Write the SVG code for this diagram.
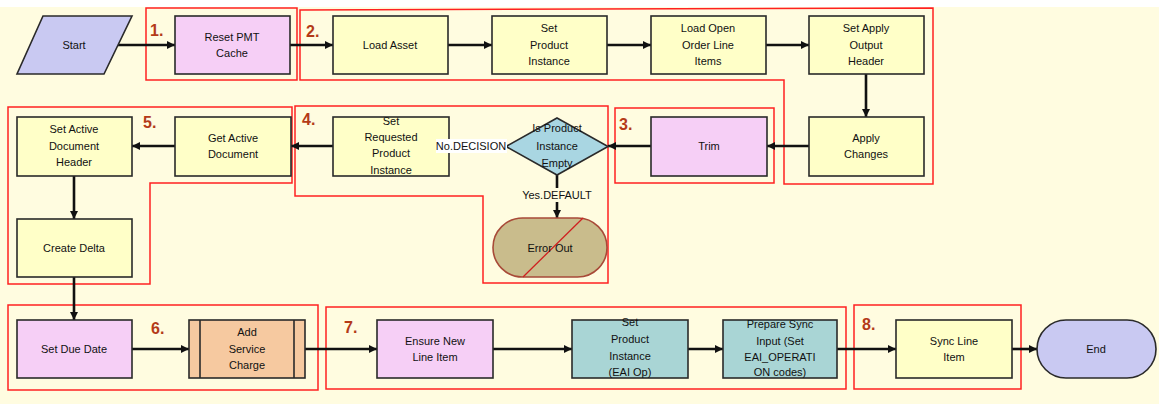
<svg xmlns="http://www.w3.org/2000/svg" width="1159" height="404" viewBox="0 0 1159 404">
<style>
.n{stroke:#2a2a2a;stroke-width:1.6}
.y{fill:#FFFFC8}
.p{fill:#F6CFF6}
.v{fill:#C9C9F2}
.t{fill:#A9D5D5}
.o{fill:#F6C9A0}
.g{fill:none;stroke:#FF2020;stroke-width:1.5}
.gl{font-family:"Liberation Sans",Arial,sans-serif;font-size:16px;font-weight:bold;fill:#B43A18}
text{font-family:"Liberation Sans",Arial,sans-serif;font-size:11px;fill:#111;text-anchor:middle}
.c{stroke:#111;stroke-width:2.6;fill:none;marker-end:url(#ah)}
.lb{font-size:11px}
</style>
<defs>
<marker id="ah" markerUnits="userSpaceOnUse" markerWidth="10" markerHeight="10" refX="8" refY="5" orient="auto">
<path d="M0,1 L8,5 L0,9 z" fill="#111"/>
</marker>
</defs>
<rect x="0" y="0" width="1159" height="404" fill="#FFFFFF"/>
<rect x="0" y="7" width="1159" height="397" fill="#FFFCE0"/>

<g id="groups">
<rect class="g" x="146" y="8" width="151" height="72"/>
<text class="gl" x="150" y="36" style="text-anchor:start">1.</text>
<polygon class="g" points="300,10 933,8 933,184 784,184 784,80 300,80"/>
<text class="gl" x="306" y="37" style="text-anchor:start">2.</text>
<rect class="g" x="615" y="108" width="159" height="75"/>
<text class="gl" x="619" y="130" style="text-anchor:start">3.</text>
<polygon class="g" points="295,106 608,106 608,283 483,283 483,196 295,196"/>
<text class="gl" x="302" y="125" style="text-anchor:start">4.</text>
<polygon class="g" points="8,107 292,107 292,183 150,183 150,284 8,284"/>
<text class="gl" x="143" y="128" style="text-anchor:start">5.</text>
<rect class="g" x="8" y="305" width="310" height="85"/>
<text class="gl" x="151" y="334" style="text-anchor:start">6.</text>
<rect class="g" x="326" y="307" width="520" height="82"/>
<text class="gl" x="344" y="333" style="text-anchor:start">7.</text>
<rect class="g" x="854" y="305" width="167" height="84"/>
<text class="gl" x="862" y="330" style="text-anchor:start">8.</text>
</g>

<g id="connectors">
<line class="c" x1="118" y1="45" x2="175" y2="45"/>
<line class="c" x1="290" y1="45" x2="333" y2="45"/>
<line class="c" x1="448" y1="45" x2="492" y2="45"/>
<line class="c" x1="607" y1="45" x2="651" y2="45"/>
<line class="c" x1="766" y1="45" x2="809" y2="45"/>
<line class="c" x1="866" y1="74" x2="866" y2="117"/>
<line class="c" x1="809" y1="146" x2="767" y2="146"/>
<line class="c" x1="651" y1="146" x2="608" y2="146"/>
<line class="c" x1="506" y1="146" x2="449" y2="146"/>
<line class="c" x1="557" y1="175" x2="557" y2="218"/>
<line class="c" x1="333" y1="146" x2="291" y2="146"/>
<line class="c" x1="175" y1="146" x2="132" y2="146"/>
<line class="c" x1="74" y1="176" x2="74" y2="219"/>
<line class="c" x1="74" y1="277" x2="74" y2="320"/>
<line class="c" x1="132" y1="349" x2="189" y2="349"/>
<line class="c" x1="305" y1="349" x2="377" y2="349"/>
<line class="c" x1="493" y1="349" x2="572" y2="349"/>
<line class="c" x1="688" y1="349" x2="723" y2="349"/>
<line class="c" x1="837" y1="349" x2="896" y2="349"/>
<line class="c" x1="1012" y1="349" x2="1037" y2="349"/>
</g>

<g id="start">
<polygon class="n v" points="43,16 132,16 104,74 17,74"/>
<text x="74" y="49">Start</text>
</g>
<g id="reset-pmt-cache">
<rect class="n p" x="175" y="16" width="115" height="58"/>
<text x="232" y="41">Reset PMT</text><text x="232" y="57">Cache</text>
</g>
<g id="load-asset">
<rect class="n y" x="333" y="16" width="115" height="58"/>
<text x="390" y="49">Load Asset</text>
</g>
<g id="set-product-instance">
<rect class="n y" x="492" y="16" width="115" height="58"/>
<text x="549" y="32">Set</text><text x="549" y="49">Product</text><text x="549" y="65">Instance</text>
</g>
<g id="load-open-order-line-items">
<rect class="n y" x="651" y="16" width="115" height="58"/>
<text x="708" y="32">Load Open</text><text x="708" y="49">Order Line</text><text x="708" y="65">Items</text>
</g>
<g id="set-apply-output-header">
<rect class="n y" x="809" y="16" width="115" height="58"/>
<text x="866" y="32">Set Apply</text><text x="866" y="49">Output</text><text x="866" y="65">Header</text>
</g>
<g id="apply-changes">
<rect class="n y" x="809" y="117" width="115" height="59"/>
<text x="866" y="142">Apply</text><text x="866" y="158">Changes</text>
</g>
<g id="trim">
<rect class="n p" x="651" y="117" width="116" height="59"/>
<text x="709" y="150">Trim</text>
</g>
<g id="is-product-instance-empty">
<polygon class="n" fill="#A9D6E2" points="557,118 608,146.5 557,175 506,146.5"/>
<text x="557" y="132">Is Product</text><text x="557" y="150">Instance</text><text x="557" y="167">Empty</text>
</g>
<g id="error-out">
<rect x="493" y="218" width="114" height="59" rx="29.5" fill="#C9BC8C" stroke="#A84A38" stroke-width="1.6"/>
<line x1="523" y1="277" x2="583" y2="218" stroke="#D02020" stroke-width="1.3"/>
<text x="550" y="252">Error Out</text>
</g>
<g id="set-requested-product-instance">
<rect class="n y" x="333" y="117" width="116" height="59"/>
<text x="391" y="125">Set</text><text x="391" y="141">Requested</text><text x="391" y="157">Product</text><text x="391" y="174">Instance</text>
</g>
<g id="get-active-document">
<rect class="n y" x="175" y="117" width="116" height="59"/>
<text x="233" y="142">Get Active</text><text x="233" y="158">Document</text>
</g>
<g id="set-active-document-header">
<rect class="n y" x="17" y="117" width="115" height="59"/>
<text x="74" y="133">Set Active</text><text x="74" y="150">Document</text><text x="74" y="166">Header</text>
</g>
<g id="create-delta">
<rect class="n y" x="17" y="219" width="115" height="58"/>
<text x="74" y="252">Create Delta</text>
</g>
<g id="set-due-date">
<rect class="n p" x="17" y="320" width="115" height="58"/>
<text x="74" y="353">Set Due Date</text>
</g>
<g id="add-service-charge">
<rect class="n o" x="189" y="320" width="116" height="58"/>
<line class="n" x1="200" y1="320" x2="200" y2="378"/>
<line class="n" x1="294" y1="320" x2="294" y2="378"/>
<text x="247" y="336">Add</text><text x="247" y="353">Service</text><text x="247" y="369">Charge</text>
</g>
<g id="ensure-new-line-item">
<rect class="n p" x="377" y="320" width="116" height="58"/>
<text x="435" y="345">Ensure New</text><text x="435" y="361">Line Item</text>
</g>
<g id="set-product-instance-eai-op">
<rect class="n t" x="572" y="320" width="116" height="58"/>
<text x="630" y="326">Set</text><text x="630" y="343">Product</text><text x="630" y="360">Instance</text><text x="630" y="376">(EAI Op)</text>
</g>
<g id="prepare-sync-input">
<rect class="n t" x="723" y="320" width="114" height="58"/>
<text x="780" y="328">Prepare Sync</text><text x="780" y="345">Input (Set</text><text x="780" y="361">EAI_OPERATI</text><text x="780" y="376">ON codes)</text>
</g>
<g id="sync-line-item">
<rect class="n y" x="896" y="320" width="116" height="58"/>
<text x="954" y="345">Sync Line</text><text x="954" y="361">Item</text>
</g>
<g id="end">
<rect class="n v" x="1037" y="320" width="119" height="58" rx="29"/>
<text x="1096" y="353">End</text>
</g>

<g id="connector-labels">
<rect x="436" y="139" width="71" height="14" fill="#FFFFFF"/>
<text class="lb" x="471" y="150">No.DECISION</text>
<rect x="518" y="188" width="78" height="14" fill="#FFFCE0"/>
<text class="lb" x="557" y="199">Yes.DEFAULT</text>
</g>
</svg>
